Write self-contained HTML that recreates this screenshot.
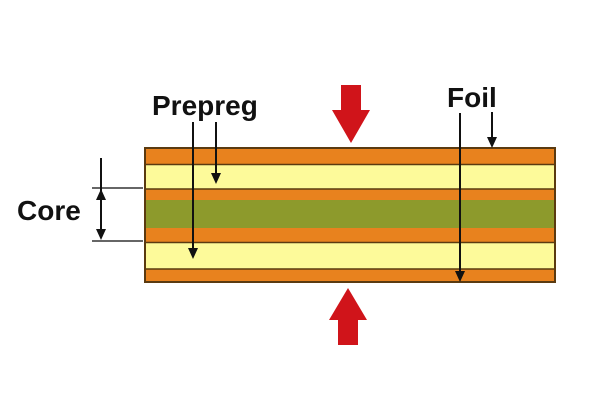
<!DOCTYPE html>
<html><head><style>body{margin:0;background:#fff}</style></head><body>
<svg width="600" height="400" viewBox="0 0 600 400" xmlns="http://www.w3.org/2000/svg">
<rect x="145" y="148" width="410" height="134" fill="#e8821e" stroke="#5a3a10" stroke-width="2"/>
<rect x="146" y="165" width="408" height="24" fill="#fdfa9a"/>
<rect x="146" y="200" width="408" height="28" fill="#8d9a2c"/>
<rect x="146" y="243" width="408" height="26" fill="#fdfa9a"/>
<g stroke="#5a3a10" stroke-width="1.5">
<line x1="145" y1="164.5" x2="555" y2="164.5"/><line x1="145" y1="189" x2="555" y2="189"/>
<line x1="145" y1="242.5" x2="555" y2="242.5"/><line x1="145" y1="269" x2="555" y2="269"/>
</g>
<g stroke="#333" stroke-width="1.5">
<line x1="92" y1="188" x2="143" y2="188"/><line x1="92" y1="241" x2="143" y2="241"/>
</g>
<g stroke="#111" stroke-width="2" fill="none">
<line x1="101" y1="158" x2="101" y2="236"/>
<line x1="193" y1="122" x2="193" y2="250"/>
<line x1="216" y1="122" x2="216" y2="176"/>
<line x1="460" y1="113" x2="460" y2="274"/>
<line x1="492" y1="112" x2="492" y2="140"/>
</g>
<g fill="#111">
<path d="M96,200 L106,200 L101,189 Z"/>
<path d="M96,229 L106,229 L101,240 Z"/>
<path d="M188,248 L198,248 L193,259 Z"/>
<path d="M211,173 L221,173 L216,184 Z"/>
<path d="M455,271 L465,271 L460,282 Z"/>
<path d="M487,137 L497,137 L492,148 Z"/>
</g>
<path d="M341,85 H361 V110 H370 L351,143 L332,110 H341 Z" fill="#d0141a"/>
<path d="M338,345 H358 V320 H367 L348,288 L329,320 H338 Z" fill="#d0141a"/>
<g font-family="Liberation Sans, sans-serif" font-weight="bold" font-size="28" fill="#111">
<text x="152" y="115">Prepreg</text>
<text x="447" y="107">Foil</text>
<text x="17" y="220">Core</text>
</g>
</svg>
</body></html>
